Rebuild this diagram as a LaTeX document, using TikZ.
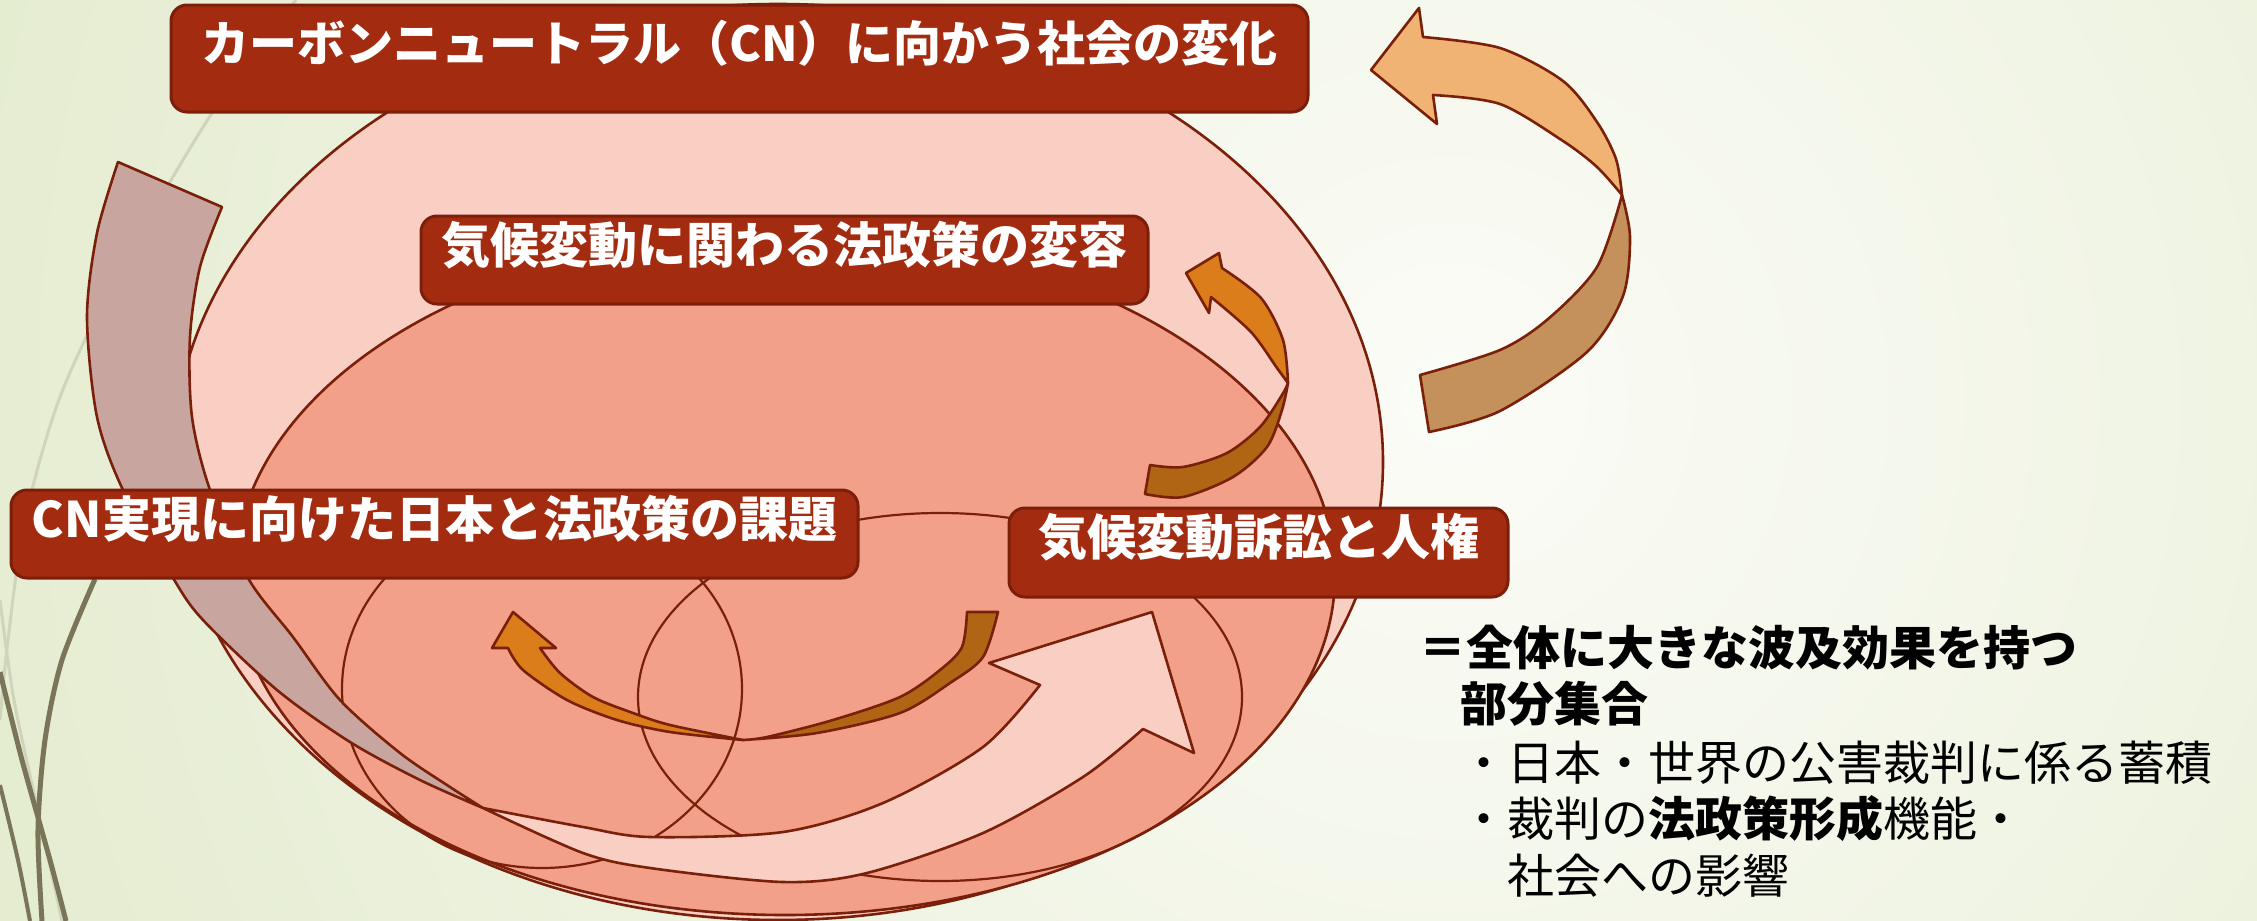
\documentclass[tikz,border=0pt]{standalone}
\usepackage{fontspec}
\setmainfont{Noto Sans CJK JP}
\definecolor{bggreen}{HTML}{E0E9C8}
\definecolor{bgwhite}{HTML}{FBFCF7}
\definecolor{decodark}{HTML}{7A7558}
\definecolor{decolight}{HTML}{CFD4BB}
\definecolor{eone}{HTML}{F9CEC3}
\definecolor{etwo}{HTML}{F2A089}
\definecolor{edgec}{HTML}{7A1F0A}
\definecolor{boxfill}{HTML}{A32B10}
\definecolor{boxline}{HTML}{7D1E0B}
\definecolor{greyband}{HTML}{C8A59E}
\definecolor{tra}{HTML}{F0B373}
\definecolor{trb}{HTML}{C4905B}
\definecolor{ora}{HTML}{DB7D1A}
\definecolor{orb}{HTML}{B06515}
\tikzset{
  edge/.style={draw=edgec, line width=2.6pt, line join=round},
  thinedge/.style={draw=edgec, line width=2.2pt},
  labelbox/.style={draw=boxline, line width=3pt, fill=boxfill, rounded corners=16pt,
     text=white, inner sep=0pt, text height=0.84em, text depth=0.2em,
     font={\fontsize{49pt}{58pt}\selectfont\bfseries}},
  sidetext/.style={anchor=base west, inner sep=0pt, text=black, font={\fontsize{47pt}{57pt}\selectfont}},
}
\begin{document}
\begin{tikzpicture}[x=1pt,y=-1pt]
\useasboundingbox (0,0) rectangle (2257,921);
\begin{scope}
\clip (0,0) rectangle (2257,921);
\fill[bggreen] (0,0) rectangle (2257,921);
\shade[inner color=bgwhite, outer color=bggreen] (1450,400) circle (1850pt);
% decorative lines
\draw[decolight, line width=3pt] plot[smooth] coordinates {(296,0) (212,113) (120,270) (60,397) (25,520) (8,640) (0,720)};
\draw[decolight, line width=3pt] plot[smooth] coordinates {(0,600) (14,700) (40,820) (62,921)};
\draw[decodark, line width=5pt] plot[smooth] coordinates {(95,579) (62,660) (45,740) (38,830) (42,921)};
\draw[decodark, line width=5pt] plot[smooth] coordinates {(0,672) (22,760) (50,860) (66,921)};
\draw[decodark, line width=4pt] plot[smooth] coordinates {(0,785) (18,860) (30,921)};
% top right twisted arrow
\filldraw[edge, fill=trb] (1622,195) -- plot[smooth] coordinates {(1622,195) (1630,237) (1623,296) (1587,352) (1500,411) (1429,432)}
   -- (1420,375) -- plot[smooth] coordinates {(1420,375) (1500,350) (1548,319) (1597,267) (1622,195)} -- cycle;
\filldraw[edge, fill=tra] (1371,70) -- (1419,8) -- (1423,37)
   -- plot[smooth] coordinates {(1423,37) (1500,48) (1563,81) (1597,122) (1616,159) (1622,195)}
   -- plot[smooth] coordinates {(1622,195) (1597,167) (1563,141) (1500,104) (1433,95)}
   -- (1437,124) -- cycle;
% nested ellipses
\filldraw[edge, fill=eone] (778,462) ellipse [x radius=605pt, y radius=458pt];
\filldraw[edge, fill=etwo] (785,575) ellipse [x radius=550pt, y radius=340pt];
\draw[thinedge] (542,689) ellipse [x radius=200pt, y radius=179pt];
\draw[thinedge] (940,697) ellipse [x radius=302pt, y radius=184pt];
% small right orange arrow
\filldraw[edge, fill=orb] (1288,383) -- plot[smooth] coordinates {(1288,383) (1282,410) (1267,447) (1233,477) (1183,497) (1145,494)}
   -- (1150,465) -- plot[smooth] coordinates {(1150,465) (1183,467) (1227,453) (1260,427) (1282,395) (1288,383)} -- cycle;
\filldraw[edge, fill=ora] (1186,273) -- (1219,253) -- (1222,268)
   -- plot[smooth] coordinates {(1222,268) (1261,298) (1283,340) (1288,383)}
   -- plot[smooth] coordinates {(1288,383) (1277,368) (1251,332) (1211,297)}
   -- (1209,313) -- cycle;
% centre orange arrow
\filldraw[edge, fill=orb] (743,740) -- plot[smooth] coordinates {(743,740) (817,733) (900,713) (950,683) (983,657) (998,612)}
   -- (967,612) -- plot[smooth] coordinates {(967,612) (962,647) (940,670) (900,697) (833,720) (767,737) (743,740)} -- cycle;
\filldraw[edge, fill=ora] (513,612) -- (492,648) -- (508,648)
   -- plot[smooth] coordinates {(508,648) (523,670) (567,700) (617,720) (670,732) (743,740)}
   -- plot[smooth] coordinates {(743,740) (670,725) (633,713) (593,697) (560,673) (540,648)}
   -- (556,648) -- cycle;
% big twisted arrow: grey back part
\filldraw[edge, fill=greyband] (118,162) -- plot[smooth] coordinates {(118,162) (97,233) (87,317) (97,417) (123,490) (173,578) (203,620) (277,690) (350,742) (420,780) (483,808)}
   -- plot[smooth] coordinates {(483,808) (450,787) (400,753) (340,700) (293,637) (248,578) (210,490) (192,417) (190,337) (200,267) (222,207)} -- cycle;
% big twisted arrow: pink front part
\filldraw[edge, fill=eone] (483,808) -- plot[smooth] coordinates {(483,808) (583,853) (650,868) (783,882) (867,873) (983,833) (1083,777) (1143,729)}
   -- (1194,753) -- (1152,612) -- (989,663) -- (1040,685)
   -- plot[smooth] coordinates {(1040,685) (983,747) (883,803) (783,832) (650,837) (583,827) (483,808)} -- cycle;
\end{scope}
% label boxes
\node[labelbox, minimum width=1137pt, minimum height=107pt, font={\fontsize{48pt}{58pt}\selectfont\bfseries}] (cn) at (739.5,58.5) {カーボンニュートラル（CN）に向かう社会の変化};
\node[labelbox, minimum width=727pt, minimum height=88pt] (law) at (784.5,260) {気候変動に関わる法政策の変容};
\node[labelbox, minimum width=847pt, minimum height=88pt] (japan) at (434.5,534) {CN実現に向けた日本と法政策の課題};
\node[labelbox, minimum width=499pt, minimum height=89pt] (suit) at (1258.5,552.5) {気候変動訴訟と人権};
% side text
\node[sidetext, font={\fontsize{47pt}{57pt}\selectfont\bfseries}] (t1) at (1419,665) {＝全体に大きな波及効果を持つ};
\node[sidetext, font={\fontsize{47pt}{57pt}\selectfont\bfseries}] (t2) at (1460,721) {部分集合};
\node[sidetext] (t3) at (1460,780) {・日本・世界の公害裁判に係る蓄積};
\node[sidetext] (t4) at (1460,836) {・裁判の\textbf{法政策形成}機能・};
\node[sidetext] (t5) at (1507,893) {社会への影響};
\end{tikzpicture}
\end{document}
